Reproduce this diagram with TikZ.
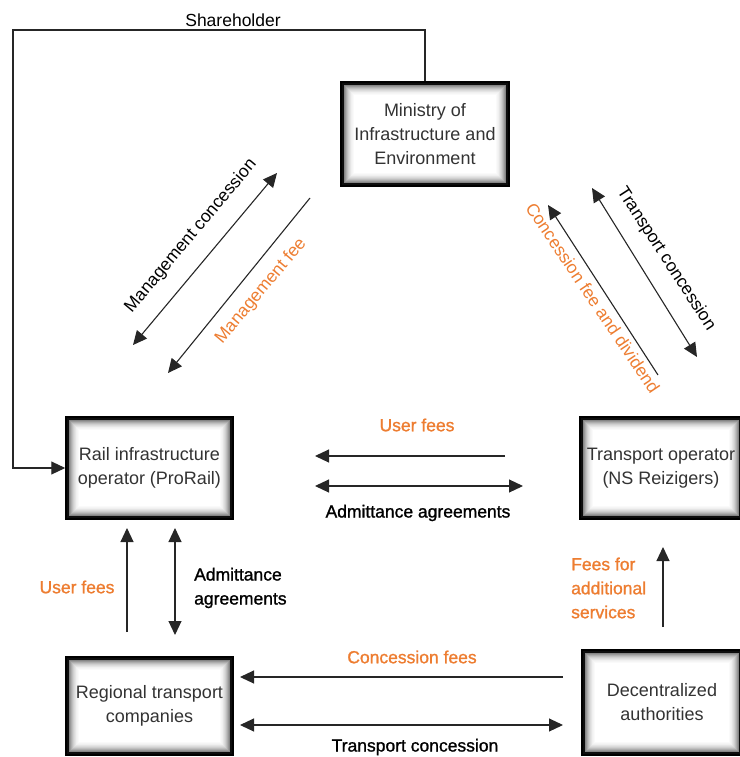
\documentclass[tikz,border=0pt]{standalone}
\usepackage{fontspec}
\setmainfont{Liberation Sans}
\newfontface\medfont{Liberation Sans}[FakeBold=1.2]
\usetikzlibrary{calc,positioning,arrows.meta}
\definecolor{feeorange}{RGB}{237,125,49}
\tikzset{>={Triangle[width=13pt,length=14pt]}}

\begin{document}
\begin{tikzpicture}[x=1pt,y=-1pt]
  \tikzstyle{orgbox} = [draw=black, line width=1.5pt, fill=white, align=center, inner sep=0pt,
    text=black!80, font=\fontsize{18}{24}\selectfont,
    path picture={
      \foreach \i in {1,...,14}{
        \pgfmathtruncatemacro{\shd}{\i<3 ? 95 : round(48*((14-\i)/11)^2)}
        \fill[black!\shd] ($(path picture bounding box.north west)+(\i,\i)$)
          rectangle ($(path picture bounding box.south east)+(-\i,-\i)$);
      }
    }]
  \tikzstyle{link} = [line width=1.1pt, draw=black!85]
  \tikzstyle{lbl} = [font=\fontsize{17.5}{24}\selectfont, align=center, inner sep=1pt]
  \tikzstyle{hlbl} = [font=\fontsize{17.5}{24}\selectfont\medfont, align=left, inner sep=1pt]

  \useasboundingbox (0,0) rectangle (739,757);

  \node[orgbox, minimum width=168pt, minimum height=104pt] (mnst) at (425,134)
    {Ministry of\\Infrastructure and\\Environment};
  \node[orgbox, minimum width=167pt, minimum height=102pt] (rail) at (149.5,468)
    {Rail infrastructure\\operator (ProRail)};
  \node[orgbox, minimum width=162pt, minimum height=102pt] (oper) at (661,468)
    {Transport operator\\(NS Reizigers)};
  \node[orgbox, minimum width=167pt, minimum height=98pt] (regn) at (149.5,706)
    {Regional transport\\companies};
  \node[orgbox, minimum width=160pt, minimum height=105pt] (dect) at (662,702.5)
    {Decentralized\\authorities};

  % shareholder line
  \coordinate (shtl) at (13,30);
  \draw[link, ->] (mnst.north) |- (shtl) |- (rail.west);
  \node[lbl] (shld) at (233,20) {Shareholder};

  % ministry <-> prorail
  \coordinate (mca) at (133,345);
  \coordinate (mcb) at (277,173);
  \coordinate (mfa) at (310,198);
  \coordinate (mfb) at (168,373);
  \draw[link, <->] (mca) -- (mcb);
  \draw[link, ->] (mfa) -- (mfb);
  \node[lbl, rotate=50] (mcon) at (191,236) {Management concession};
  \node[lbl, rotate=50, text=feeorange] (mfee) at (261,291) {Management fee};

  % ministry <-> NS
  \coordinate (tca) at (592,188);
  \coordinate (tcb) at (697,357);
  \coordinate (cfa) at (658,375);
  \coordinate (cfb) at (548,205);
  \draw[link, <->] (tca) -- (tcb);
  \draw[link, ->] (cfa) -- (cfb);
  \node[lbl, rotate=-57] (tcon) at (666,259) {Transport concession};
  \node[lbl, rotate=-56, text=feeorange] (cdiv) at (593,298) {Concession fee and dividend};

  % prorail <-> NS
  \coordinate (ufa) at (505,456);
  \coordinate (ufb) at (315,456);
  \coordinate (aga) at (315,486);
  \coordinate (agb) at (523,486);
  \draw[link, ->] (ufa) -- (ufb);
  \draw[link, <->] (aga) -- (agb);
  \node[hlbl, text=feeorange] (ufee) at (417,425) {User fees};
  \node[hlbl] (admt) at (418,513) {Admittance agreements};

  % prorail <-> regional
  \coordinate (rua) at (127,632);
  \coordinate (rub) at (127,528);
  \coordinate (raa) at (175,528);
  \coordinate (rab) at (175,635);
  \draw[link, ->] (rua) -- (rub);
  \draw[link, <->] (raa) -- (rab);
  \node[hlbl, text=feeorange] (rufe) at (77,587) {User fees};
  \node[hlbl, anchor=west] (radm) at (193,588) {Admittance\\agreements};

  % decentralized -> NS
  \coordinate (fsa) at (663,627);
  \coordinate (fsb) at (663,547);
  \draw[link, ->] (fsa) -- (fsb);
  \node[hlbl, anchor=west, text=feeorange] (fsrv) at (570,588) {Fees for\\additional\\services};

  % decentralized <-> regional
  \coordinate (cfc) at (563,677);
  \coordinate (cfd) at (240,677);
  \coordinate (tcc) at (240,725);
  \coordinate (tcd) at (563,725);
  \draw[link, ->] (cfc) -- (cfd);
  \draw[link, <->] (tcc) -- (tcd);
  \node[hlbl, text=feeorange] (cfee) at (412,657) {Concession fees};
  \node[hlbl] (tcbt) at (415,747) {Transport concession};
\end{tikzpicture}
\end{document}
